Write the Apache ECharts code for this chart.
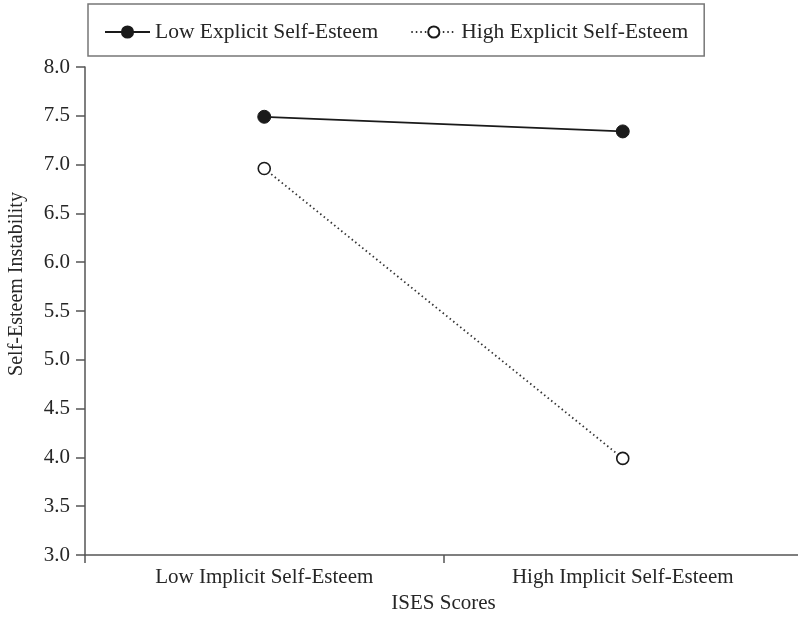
<!DOCTYPE html>
<html>
<head>
<meta charset="utf-8">
<script src="https://cdn.jsdelivr.net/npm/echarts@6/dist/echarts.min.js"></script>
<style>html,body{margin:0;padding:0;background:#fff}#c{width:798px;height:617px}</style>
</head>
<body>
<div id="c"></div>
<script>
const categories = ['Low Implicit Self-Esteem', 'High Implicit Self-Esteem'];
const lowExplicit = [7.49, 7.34];
const highExplicit = [6.96, 3.99];
const seriesNames = ['Low Explicit Self-Esteem', 'High Explicit Self-Esteem'];
const xAxisTitle = 'ISES Scores';
const yAxisTitle = 'Self-Esteem Instability';

const FONT = '"Liberation Serif", "DejaVu Serif", serif';
const TXT = '#262626';
const AX = '#555';

const chart = echarts.init(document.getElementById('c'));
chart.setOption({
  animation: false,
  textStyle: { fontFamily: FONT },
  grid: { left: 85, right: -4, top: 67, bottom: 62, containLabel: false, outerBoundsMode: 'none' },
  legend: {
    left: 88, top: 4,
    padding: [17, 16, 13, 16],
    borderColor: '#777', borderWidth: 1.5,
    itemWidth: 45, itemHeight: 14, itemGap: 32,
    textStyle: { fontFamily: FONT, fontSize: 21.5, color: TXT },
    data: seriesNames
  },
  graphic: [{
    type: 'text', rotation: Math.PI / 2,
    x: 17, y: 284,
    style: { text: yAxisTitle, fontFamily: FONT, fontSize: 20, fill: TXT, align: 'center', verticalAlign: 'middle' }
  }],
  xAxis: {
    type: 'category', data: categories, boundaryGap: true,
    name: xAxisTitle, nameLocation: 'middle', nameGap: 36,
    nameTextStyle: { fontFamily: FONT, fontSize: 21, color: TXT },
    axisLine: { lineStyle: { color: AX, width: 1.5 } },
    axisTick: { show: true, length: 8, alignWithLabel: false, lineStyle: { color: AX, width: 1.5 } },
    axisLabel: { fontFamily: FONT, fontSize: 21, color: TXT, margin: 12 },
    splitLine: { show: false }
  },
  yAxis: {
    type: 'value', min: 3, max: 8, interval: 0.5,
    axisLine: { show: true, lineStyle: { color: AX, width: 1.5 } },
    axisTick: { show: true, length: 9, lineStyle: { color: AX, width: 1.5 } },
    axisLabel: { fontFamily: FONT, fontSize: 21, color: TXT, margin: 15, formatter: v => v.toFixed(1) },
    splitLine: { show: false }
  },
  series: [
    {
      name: seriesNames[0], type: 'line', data: lowExplicit,
      symbol: 'circle', symbolSize: 13,
      itemStyle: { color: '#1a1a1a', borderColor: '#1a1a1a', borderWidth: 1 },
      lineStyle: { color: '#1a1a1a', width: 1.8, type: 'solid' }
    },
    {
      name: seriesNames[1], type: 'line', data: highExplicit,
      symbol: 'circle', symbolSize: 12,
      itemStyle: { color: '#fff', borderColor: '#1a1a1a', borderWidth: 1.6 },
      lineStyle: { color: '#333', width: 1.8, type: [1.5, 3] }
    }
  ]
});
</script>
</body>
</html>
